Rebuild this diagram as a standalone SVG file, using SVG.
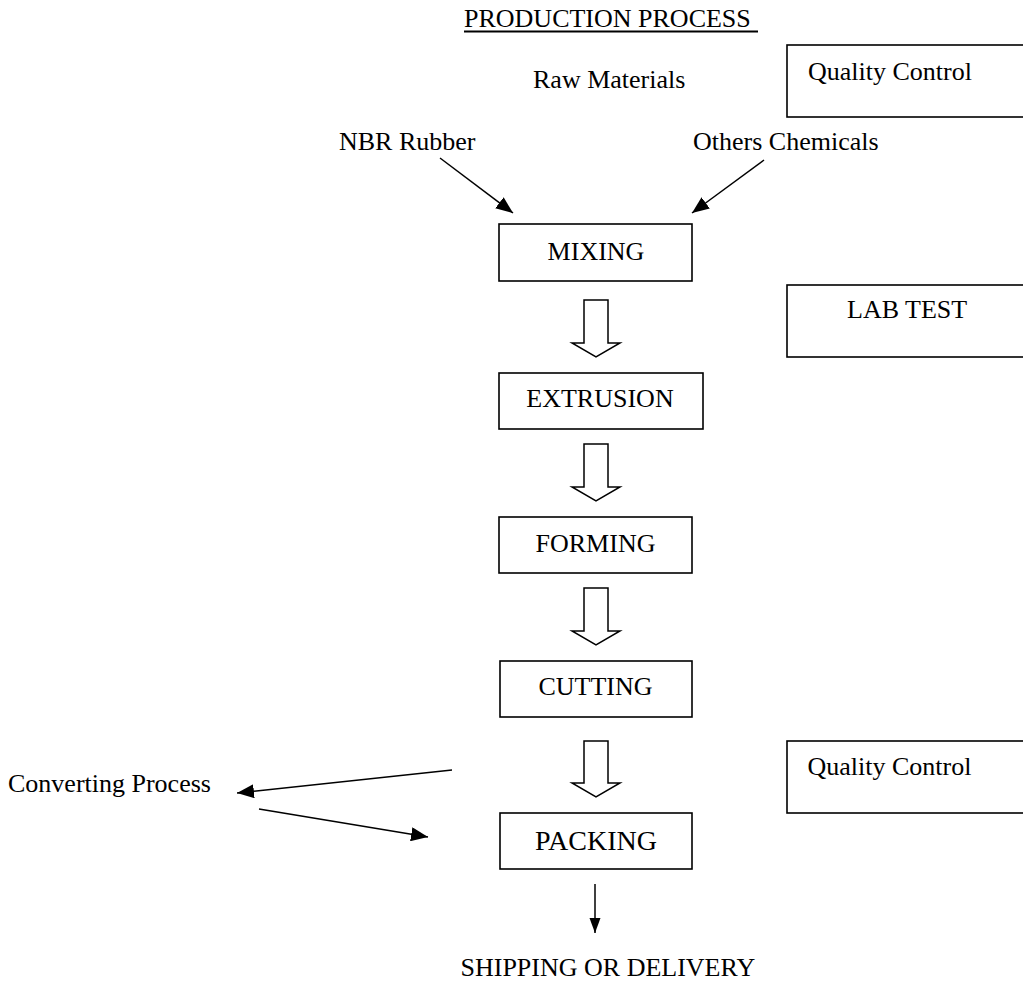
<svg xmlns="http://www.w3.org/2000/svg" width="1023" height="982" viewBox="0 0 1023 982">
<style>
text{font-family:"Liberation Serif","Times New Roman",serif;font-size:26px;fill:#000}
.box{fill:#fff;stroke:#000;stroke-width:1.6}
.c{text-anchor:middle}
.ln{stroke:#000;stroke-width:1.5;fill:none}
.hollow{fill:#fff;stroke:#000;stroke-width:1.5;stroke-linejoin:miter}
</style>
<defs>
<marker id="ah" markerUnits="userSpaceOnUse" markerWidth="18" markerHeight="14" refX="17" refY="7" orient="auto">
<path d="M0,0 L17,7 L0,14 z" fill="#000"/>
</marker>
<marker id="ahs" markerUnits="userSpaceOnUse" markerWidth="16" markerHeight="12" refX="15" refY="5.5" orient="auto">
<path d="M0,0 L15,5.5 L0,11 z" fill="#000"/>
</marker>
</defs>
<g id="title">
<text x="464" y="27">PRODUCTION PROCESS</text>
<line x1="464" y1="31.5" x2="758" y2="31.5" stroke="#000" stroke-width="2"/>
</g>
<g id="raw-materials"><text x="533" y="88">Raw Materials</text></g>
<g id="qc1"><rect class="box" x="787" y="45" width="240" height="72"/><text x="808" y="80">Quality Control</text></g>
<g id="nbr"><text x="339" y="150">NBR Rubber</text></g>
<g id="chem"><text x="693" y="150">Others Chemicals</text></g>
<g id="mixing"><rect class="box" x="499" y="224" width="193" height="57"/><text class="c" x="596" y="260">MIXING</text></g>
<g id="labtest"><rect class="box" x="787" y="285" width="240" height="72"/><text x="847" y="318">LAB TEST</text></g>
<g id="extrusion"><rect class="box" x="499" y="373" width="204" height="56"/><text class="c" x="600" y="407">EXTRUSION</text></g>
<g id="forming"><rect class="box" x="499" y="517" width="193" height="56"/><text class="c" x="595.5" y="552">FORMING</text></g>
<g id="cutting"><rect class="box" x="500" y="661" width="192" height="56"/><text class="c" x="595.5" y="695">CUTTING</text></g>
<g id="qc2"><rect class="box" x="787" y="741" width="240" height="72"/><text x="807.5" y="775">Quality Control</text></g>
<g id="converting"><text x="8" y="792">Converting Process</text></g>
<g id="packing"><rect class="box" x="500" y="813" width="192" height="56"/><text class="c" x="596" y="850" style="font-size:28px">PACKING</text></g>
<g id="shipping"><text x="460.5" y="976">SHIPPING OR DELIVERY</text></g>
<g id="connectors">
<line class="ln" x1="440" y1="158" x2="513" y2="213" marker-end="url(#ah)"/>
<line class="ln" x1="764" y1="160" x2="692" y2="213" marker-end="url(#ah)"/>
<path class="hollow" d="M584,300 H608 V343 H620 L596,357 L572,343 H584 Z"/>
<path class="hollow" d="M584,444 H608 V487 H620 L596,501 L572,487 H584 Z"/>
<path class="hollow" d="M584,588 H608 V631 H620 L596,645 L572,631 H584 Z"/>
<path class="hollow" d="M584,741 H608 V783 H620 L596,797 L572,783 H584 Z"/>
<line class="ln" x1="452" y1="770" x2="237" y2="793" marker-end="url(#ah)"/>
<line class="ln" x1="259" y1="809" x2="428" y2="837" marker-end="url(#ah)"/>
<line class="ln" x1="595" y1="884" x2="595" y2="933" marker-end="url(#ahs)"/>
</g>
</svg>
